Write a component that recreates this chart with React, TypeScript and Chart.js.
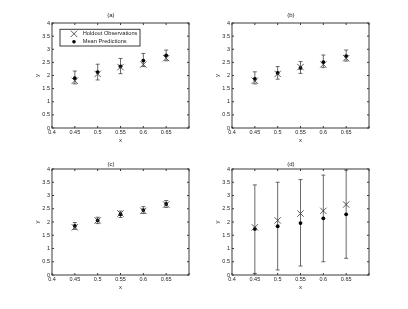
import React, { useEffect, useRef } from 'react';
import { Chart, registerables } from 'chart.js';

Chart.register(...registerables);

// ---- data ----
const xValues = [0.45, 0.5, 0.55, 0.6, 0.65];
const holdoutObs = [1.8, 2.06, 2.32, 2.42, 2.66];

const meanA = [1.9, 2.13, 2.35, 2.57, 2.77];
const lowA = [1.68, 1.83, 2.07, 2.34, 2.56];
const highA = [2.17, 2.43, 2.65, 2.84, 2.97];

const meanB = [1.87, 2.1, 2.29, 2.51, 2.74];
const lowB = [1.68, 1.86, 2.08, 2.3, 2.55];
const highB = [2.14, 2.34, 2.53, 2.78, 2.97];

const meanC = [1.85, 2.06, 2.29, 2.45, 2.68];
const lowC = [1.72, 1.94, 2.17, 2.32, 2.55];
const highC = [1.98, 2.18, 2.41, 2.58, 2.81];

const meanD = [1.74, 1.84, 1.96, 2.14, 2.29];
const lowD = [0.06, 0.19, 0.34, 0.5, 0.63];
const highD = [3.4, 3.5, 3.6, 3.77, 3.96];

const panelTitles = ['(a)', '(b)', '(c)', '(d)'];
const seriesLabels = ['Holdout Observations', 'Mean Predictions'];
const xAxisLabel = 'x';
const yAxisLabel = 'y';
const xMin = 0.4;
const xMax = 0.7;
const xStep = 0.05;
const yMin = 0;
const yMax = 4;
const yStep = 0.5;

const FONT = "'Liberation Sans', Arial, Helvetica, sans-serif";
const AXIS_COLOR = '#3a3a3a';

type Panel = {
  title: string;
  mean: number[];
  low: number[];
  high: number[];
  left: number;
  top: number;
  width: number;
  height: number;
  padL: number;
  padR: number;
  padB: number;
  tPadTop: number;
  tPadBottom: number;
  legend: boolean;
};

const panels: Panel[] = [
  { title: panelTitles[0], mean: meanA, low: lowA, high: highA, left: 0, top: 0, width: 204, height: 150, padL: 32.8, padR: 15, padB: 0, tPadTop: 11.5, tPadBottom: 3.1, legend: true },
  { title: panelTitles[1], mean: meanB, low: lowB, high: highB, left: 204, top: 0, width: 204, height: 150, padL: 8.8, padR: 39, padB: 0, tPadTop: 11.5, tPadBottom: 3.1, legend: false },
  { title: panelTitles[2], mean: meanC, low: lowC, high: highC, left: 0, top: 146, width: 204, height: 163, padL: 32.8, padR: 15, padB: 12, tPadTop: 13.8, tPadBottom: 0.8, legend: false },
  { title: panelTitles[3], mean: meanD, low: lowD, high: highD, left: 204, top: 146, width: 204, height: 163, padL: 8.8, padR: 39, padB: 12, tPadTop: 13.8, tPadBottom: 0.8, legend: false },
];

const fmt = (v: number) => String(Number(v.toFixed(2)));

const boxPlugin = {
  id: 'matlabBox',
  afterDraw(chart: any) {
    const { ctx, chartArea } = chart;
    const { left, right, top, bottom } = chartArea;
    const xs = chart.scales.x;
    const ys = chart.scales.y;
    ctx.save();
    ctx.strokeStyle = AXIS_COLOR;
    ctx.lineWidth = 1;
    ctx.strokeRect(left, top, right - left, bottom - top);
    const tl = 2;
    ctx.beginPath();
    xs.ticks.forEach((t: any) => {
      const px = xs.getPixelForValue(t.value);
      ctx.moveTo(px, bottom);
      ctx.lineTo(px, bottom - tl);
      ctx.moveTo(px, top);
      ctx.lineTo(px, top + tl);
    });
    ys.ticks.forEach((t: any) => {
      const py = ys.getPixelForValue(t.value);
      ctx.moveTo(left, py);
      ctx.lineTo(left + tl, py);
      ctx.moveTo(right, py);
      ctx.lineTo(right - tl, py);
    });
    ctx.stroke();

    if (chart.options.plugins.matlabBox && chart.options.plugins.matlabBox.legend) {
      const bx = left + 8;
      const by = top + 6.3;
      const bw = 80;
      const bh = 16.7;
      ctx.fillStyle = '#ffffff';
      ctx.fillRect(bx, by, bw, bh);
      ctx.strokeRect(bx, by, bw, bh);
      const mx = bx + 14;
      const r1 = by + 4.5;
      const r2 = by + 12.5;
      // X marker
      ctx.strokeStyle = '#333';
      ctx.lineWidth = 0.8;
      ctx.beginPath();
      ctx.moveTo(mx - 3.2, r1 - 3.2);
      ctx.lineTo(mx + 3.2, r1 + 3.2);
      ctx.moveTo(mx + 3.2, r1 - 3.2);
      ctx.lineTo(mx - 3.2, r1 + 3.2);
      ctx.stroke();
      // dot marker
      ctx.fillStyle = '#000';
      ctx.beginPath();
      ctx.arc(mx, r2, 1.8, 0, Math.PI * 2);
      ctx.fill();
      ctx.font = `5.7px ${FONT}`;
      ctx.fillStyle = '#222';
      ctx.textBaseline = 'middle';
      ctx.textAlign = 'left';
      const ds = chart.data.datasets;
      ctx.fillText(ds[0].label, bx + 22.7, r1);
      ctx.fillText(ds[1].label, bx + 22.7, r2);
    }
    ctx.restore();
  },
};

function PanelChart({ p }: { p: Panel }) {
  const ref = useRef<HTMLCanvasElement | null>(null);
  useEffect(() => {
    if (!ref.current) return;
    const errData: any[] = [];
    xValues.forEach((x, i) => {
      errData.push({ x, y: p.low[i] });
      errData.push({ x, y: p.high[i] });
      errData.push({ x, y: null });
    });
    const chart = new Chart(ref.current, {
      type: 'scatter',
      data: {
        datasets: [
          {
            label: seriesLabels[0],
            data: xValues.map((x, i) => ({ x, y: holdoutObs[i] })),
            pointStyle: 'crossRot',
            pointRadius: 4.5,
            borderColor: '#333',
            backgroundColor: '#333',
            borderWidth: 0.8,
            showLine: false,
          },
          {
            label: seriesLabels[1],
            data: xValues.map((x, i) => ({ x, y: p.mean[i] })),
            pointStyle: 'circle',
            pointRadius: 1.9,
            borderColor: '#000',
            backgroundColor: '#000',
            borderWidth: 0,
            showLine: false,
          },
          {
            label: 'error',
            data: errData,
            showLine: true,
            spanGaps: false,
            pointStyle: 'line',
            pointRadius: 2,
            borderColor: '#444',
            backgroundColor: '#444',
            borderWidth: 0.8,
            pointBorderWidth: 0.8,
          } as any,
        ],
      },
      options: {
        responsive: false,
        animation: false,
        events: [],
        layout: { padding: { left: p.padL, right: p.padR, top: 0, bottom: p.padB } },
        plugins: {
          legend: { display: false },
          tooltip: { enabled: false },
          title: {
            display: true,
            text: p.title,
            color: '#222',
            font: { family: FONT, size: 6, weight: 'normal', lineHeight: 1.4 },
            padding: { top: p.tPadTop, bottom: p.tPadBottom },
          },
          matlabBox: { legend: p.legend },
        } as any,
        scales: {
          x: {
            type: 'linear',
            min: xMin,
            max: xMax,
            grid: { display: false, drawTicks: false },
            border: { display: false },
            ticks: {
              stepSize: xStep,
              autoSkip: false,
              maxRotation: 0,
              padding: 1.2,
              color: '#222',
              font: { family: FONT, size: 5.5 },
              callback: (v: any) => (Math.abs(Number(v) - xMax) < 1e-6 ? '' : fmt(Number(v))),
            },
            title: {
              display: true,
              text: xAxisLabel,
              color: '#222',
              font: { family: FONT, size: 6, lineHeight: 1.4 },
              padding: { top: 0, bottom: 5.8 },
            },
            afterFit: (s: any) => {
              s.height = 22;
            },
          },
          y: {
            type: 'linear',
            min: yMin,
            max: yMax,
            grid: { display: false, drawTicks: false },
            border: { display: false },
            ticks: {
              stepSize: yStep,
              autoSkip: false,
              padding: 2,
              color: '#222',
              font: { family: FONT, size: 5.5 },
              callback: (v: any) => fmt(Number(v)),
            },
            title: {
              display: true,
              text: yAxisLabel,
              color: '#222',
              font: { family: FONT, size: 6, lineHeight: 1.4 },
              padding: { top: 0, bottom: 0 },
            },
            afterFit: (s: any) => {
              s.width = 19.2;
            },
          },
        },
      },
      plugins: [boxPlugin],
    });
    return () => chart.destroy();
  }, [p]);
  return (
    <canvas
      ref={ref}
      width={p.width}
      height={p.height}
      style={{ position: 'absolute', left: p.left, top: p.top, width: p.width, height: p.height }}
    />
  );
}

export default function App() {
  return (
    <div style={{ position: 'absolute', left: 0, top: 0, width: 408, height: 309, background: '#fff' }}>
      {panels.map((p) => (
        <PanelChart key={p.title} p={p} />
      ))}
    </div>
  );
}
